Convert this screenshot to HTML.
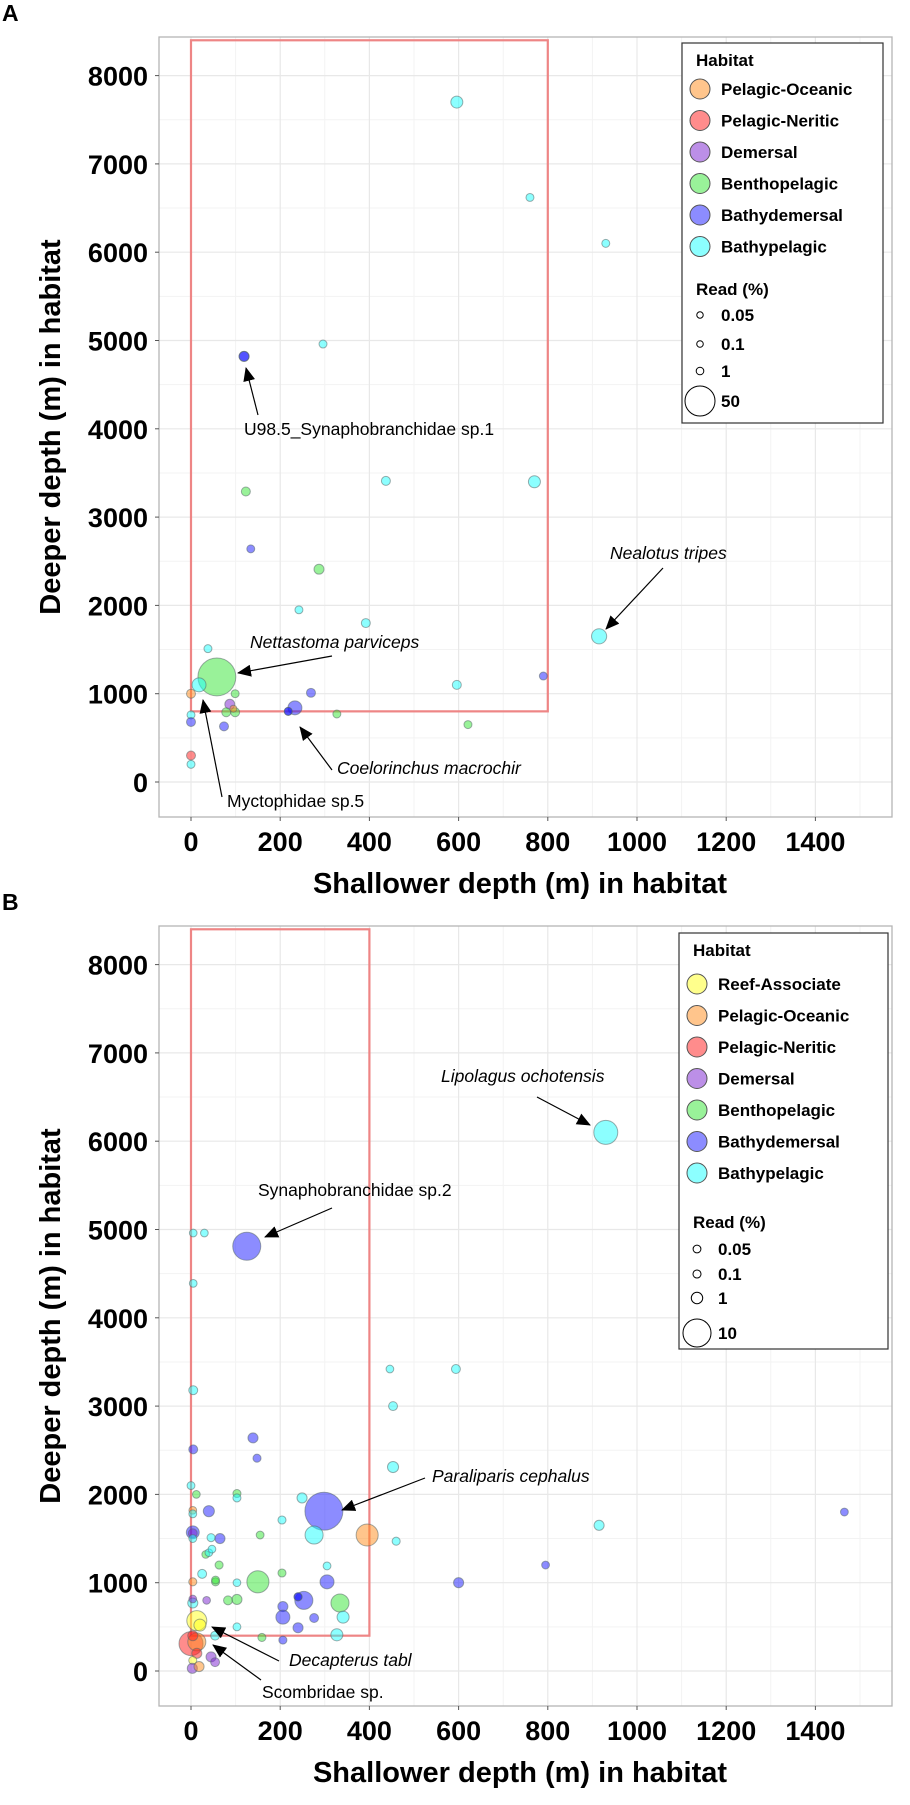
<!DOCTYPE html>
<html><head><meta charset="utf-8">
<style>
html,body{margin:0;padding:0;background:#fff;}
svg{display:block;font-family:"Liberation Sans",Arial,sans-serif;}
</style></head>
<body>
<svg id="fig" width="910" height="1805" viewBox="0 0 910 1805" xmlns="http://www.w3.org/2000/svg">
<defs>
<marker id="ah" markerWidth="14" markerHeight="12" refX="13" refY="6" orient="auto" markerUnits="userSpaceOnUse"><path d="M0,0 L14,6 L0,12 z" fill="#000"/></marker>
</defs>
</svg>
<script>
// ---------- data ----------
const habitatsA = ["Pelagic-Oceanic","Pelagic-Neritic","Demersal","Benthopelagic","Bathydemersal","Bathypelagic"];
const habitatsB = ["Reef-Associate","Pelagic-Oceanic","Pelagic-Neritic","Demersal","Benthopelagic","Bathydemersal","Bathypelagic"];
const xTicks = [0,200,400,600,800,1000,1200,1400];
const yTicks = [0,1000,2000,3000,4000,5000,6000,7000,8000];
const sizeLegendA = [0.05,0.1,1,50];
const sizeLegendB = [0.05,0.1,1,10];
// panel A points: shallow depth, deep depth, read %, habitat
const shallowA = [596,760,930,296,119,119,437,770,123,134,287,242,392,915,38,58,18,0,99,269,596,790,87,79,99,95,233,218,218,327,621,0,0,74,0,0];
const deepA    = [7700,6620,6100,4960,4820,4820,3410,3400,3290,2640,2410,1950,1800,1650,1510,1190,1100,1000,1000,1010,1100,1200,880,790,790,830,840,800,800,770,650,760,680,630,300,200];
const readA    = [6,1.3,1.3,1.3,3.4,3.4,2.3,6,2.3,1.3,3.4,1.3,2.3,11,1.3,81,9,2.3,1.3,2.3,2.3,1.3,3.4,2.3,2.3,0.5,9,1.3,1.3,1.3,1.3,1.3,2.3,2.3,2.3,1.3];
const habA     = ["BY","BY","BY","BY","BD","BD","BY","BY","BP","BD","BP","BY","BY","BY","BY","BP","BY","O","BP","BD","BY","BD","D","BP","BP","O","BD","BD","BD","BP","BP","BY","BD","BD","N","BY"];
// panel B points
const shallowB = [930,125,5,30,5,5,446,594,453,139,5,148,453,0,12,103,103,249,298,4,4,40,204,395,276,460,4,4,4,45,65,155,33,40,47,63,25,4,55,55,103,150,204,305,305,4,4,35,83,103,253,240,240,206,206,276,334,341,327,240,206,159,103,54,13,20,0,13,4,13,4,45,54,3,18,915,795,600,1465];
const deepB    = [6100,4810,4960,4960,4390,3180,3420,3420,3000,2640,2510,2410,2310,2100,2000,2010,1960,1960,1810,1820,1780,1810,1710,1540,1540,1470,1570,1560,1500,1510,1500,1540,1320,1340,1380,1200,1100,1010,1010,1030,1000,1010,1110,1190,1010,770,815,800,800,810,800,840,840,730,610,600,770,610,410,490,350,380,500,400,570,520,310,330,400,200,120,160,100,30,50,1650,1200,1000,1800];
const readB    = [7.1,10,0.02,0.02,0.02,0.3,0.02,0.3,0.3,0.6,0.3,0.1,0.9,0.05,0.02,0.1,0.1,0.6,19,0.02,0.05,0.9,0.1,5.9,3.7,0.1,1.5,0.3,0.05,0.1,0.6,0.05,0.02,0.02,0.02,0.1,0.3,0.1,0.1,0.05,0.02,5.9,0.1,0.05,1.9,0.6,0.02,0.02,0.3,0.6,3.7,0.1,0.1,0.6,1.9,0.3,3.7,1.2,1.2,0.6,0.1,0.1,0.05,0.3,4.7,1.2,7.1,3.7,0.6,0.6,0.1,0.6,0.3,0.6,0.6,0.6,0.05,0.6,0.05];
const habB     = ["BY","BD","BY","BY","BY","BY","BY","BY","BY","BD","BD","BD","BY","BY","BP","BP","BY","BY","BD","O","BY","BD","BY","O","BY","BY","BD","D","BY","BY","BD","BP","BP","BY","BY","BP","BY","O","BP","BP","BY","BP","BP","BY","BD","BY","D","D","BP","BP","BD","BD","BD","BD","BD","BD","BP","BY","BY","BD","BD","BP","BY","BY","R","R","N","O","N","N","R","D","D","D","O","BY","BD","BD","BD"];

// ---------- styling ----------
const COL = {"R":"#ffff1a","O":"#ff8c1a","N":"#ff1a1a","D":"#7a1fd0","BP":"#33e633","BD":"#1a1aff","BY":"#1affff"};
const NAMECODE = {"Reef-Associate":"R","Pelagic-Oceanic":"O","Pelagic-Neritic":"N","Demersal":"D","Benthopelagic":"BP","Bathydemersal":"BD","Bathypelagic":"BY"};
const NS = "http://www.w3.org/2000/svg";
const svg = document.getElementById("fig");
function el(tag, attrs, parent){ const e=document.createElementNS(NS,tag); for(const k in attrs) e.setAttribute(k,attrs[k]); (parent||svg).appendChild(e); return e; }

const X0 = 191, XS = 0.446, PL = 159, PR = 892;
function makePanel(cfg){
  const top = cfg.top, bot = cfg.top+780, y0 = bot-35, YS = 0.0883;
  const xs = v => X0 + v*XS;
  const ys = v => y0 - v*YS;
  const g = el("g",{});
  
  
  for(let v=-100; v<=1600; v+=200){ const x=xs(v); if(x>PL&&x<PR){ const l=el("line",{x1:x,x2:x,y1:top,y2:bot,stroke:"#f3f3f3","stroke-width":1},g);
      } }
  for(let v=-500; v<=8500; v+=1000){ const y=ys(v); if(y>top&&y<bot){ const l=el("line",{x1:PL,x2:PR,y1:y,y2:y,stroke:"#f3f3f3","stroke-width":1},g);
      } }
  for(let v=0; v<=1600; v+=200){ const x=xs(v); if(x<PR){ const l=el("line",{x1:x,x2:x,y1:top,y2:bot,stroke:"#e8e8e8","stroke-width":1.2},g);
      } }
  yTicks.forEach(v=>{ const y=ys(v); const l=el("line",{x1:PL,x2:PR,y1:y,y2:y,stroke:"#e8e8e8","stroke-width":1.2},g);
      });
  const pb = el("rect",{x:PL,y:top,width:PR-PL,height:bot-top,fill:"none",stroke:"#b5b5b5","stroke-width":1.3},g);
   
  const rr = el("rect",{x:xs(0),y:ys(8400),width:xs(cfg.rectX)-xs(0),height:ys(cfg.rectY)-ys(8400),fill:"none",stroke:"#ee8585","stroke-width":2.2},g);
   
  xTicks.forEach(v=>{
    const x=xs(v);
    const t=el("line",{x1:x,x2:x,y1:bot,y2:bot+4,stroke:"#555","stroke-width":1},g);
     
    const tx=el("text",{x:x,y:bot+34,"text-anchor":"middle","font-size":27,"font-weight":"bold",fill:"#000"},g);
    tx.textContent=v;
     
  });
  yTicks.forEach(v=>{
    const y=ys(v);
    const t=el("line",{x1:PL-4,x2:PL,y1:y,y2:y,stroke:"#555","stroke-width":1},g);
     
    const tx=el("text",{x:148,y:y+10,"text-anchor":"end","font-size":27,"font-weight":"bold",fill:"#000"},g);
    tx.textContent=v;
     
  });
  const xt=el("text",{x:520,y:bot+76,"text-anchor":"middle","font-size":29,"font-weight":"bold",fill:"#000"},g);
  xt.textContent="Shallower depth (m) in habitat";
   
  const cy=(top+bot)/2;
  const yt=el("text",{x:0,y:0,transform:`translate(60,${cy}) rotate(-90)`,"text-anchor":"middle","font-size":29,"font-weight":"bold",fill:"#000"},g);
  yt.textContent="Deeper depth (m) in habitat";
   
  const pl=el("text",{x:2,y:top-16,"font-size":23,"font-weight":"bold",fill:"#000"},g);
  pl.textContent=cfg.letter;
   
  const rad = v => Math.sqrt(cfg.r0*cfg.r0 + cfg.k*v);
  for(let i=0;i<cfg.sx.length;i++){
    const c=el("circle",{cx:xs(cfg.sx[i]),cy:ys(cfg.dy[i]),r:rad(cfg.rd[i]).toFixed(2),fill:COL[cfg.hb[i]],"fill-opacity":0.5,stroke:"#5a6a6a","stroke-opacity":0.55,"stroke-width":1},g);
    
    
  }
  cfg.ann.forEach(a=>{
    const ln=el("line",{x1:a.lx1,y1:a.ly1+top,x2:a.lx2,y2:a.ly2+top,stroke:"#000","stroke-width":1.2,"marker-end":"url(#ah)"},g);
     
    const t=el("text",{x:a.tx,y:a.ty+top,"font-size":17.5,"font-style":a.it?"italic":"normal",fill:"#000"},g);
    t.textContent=a.text;
     
  });
  const L=cfg.leg;
  const lg=el("g",{},g);
   
  const lb=el("rect",{x:L.x,y:L.y+top,width:L.w,height:L.h,fill:"#fff",stroke:"#333","stroke-width":1.2},lg);
   
  const ht=el("text",{x:L.x+14,y:L.y+top+23,"font-size":17,"font-weight":"bold",fill:"#000"},lg);
  ht.textContent="Habitat";
   
  cfg.habs.forEach((h,i)=>{
    const yy=L.y+top+L.e0+i*31.5;
    const c=el("circle",{cx:L.x+18,cy:yy,r:10,fill:COL[NAMECODE[h]],"fill-opacity":0.5,stroke:"#555","stroke-width":1},lg);
     
    const t=el("text",{x:L.x+39,y:yy+6,"font-size":17,"font-weight":"bold",fill:"#000"},lg);
    t.textContent=h;
     
  });
  const rt=el("text",{x:L.x+14,y:L.y+top+L.r0y,"font-size":17,"font-weight":"bold",fill:"#000"},lg);
  rt.textContent="Read (%)";
   
  cfg.sizes.forEach((s,i)=>{
    const yy=L.y+top+L.sy[i];
    const r=rad(s);
    const c=el("circle",{cx:L.x+18,cy:yy,r:r.toFixed(2),fill:"none",stroke:"#000","stroke-width":1},lg);
     
    const t=el("text",{x:L.x+39,y:yy+6,"font-size":17,"font-weight":"bold",fill:"#000"},lg);
    t.textContent=s;
     
  });
}

makePanel({id:"panel-a",letter:"A",top:37,rectX:800,rectY:800,sx:shallowA,dy:deepA,rd:readA,hb:habA,r0:3.2,k:4.3,
  habs:habitatsA,sizes:sizeLegendA,
  leg:{x:682,y:6,w:201,h:380,e0:46,r0y:252,sy:[272,301,328,358]},
  ann:[
    {text:"U98.5_Synaphobranchidae sp.1",it:false,tx:244,ty:398,lx1:258,ly1:378,lx2:246,ly2:331},
    {text:"Nealotus tripes",it:true,tx:610,ty:522,lx1:663,ly1:531,lx2:606,ly2:592},
    {text:"Nettastoma parviceps",it:true,tx:250,ty:611,lx1:332,ly1:619,lx2:238,ly2:636},
    {text:"Coelorinchus macrochir",it:true,tx:337,ty:737,lx1:332,ly1:733,lx2:300,ly2:690},
    {text:"Myctophidae sp.5",it:false,tx:227,ty:770,lx1:222,ly1:760,lx2:203,ly2:663}
  ]});

makePanel({id:"panel-b",letter:"B",top:926,rectX:400,rectY:400,sx:shallowB,dy:deepB,rd:readB,hb:habB,r0:3.8,k:18.2,
  habs:habitatsB,sizes:sizeLegendB,
  leg:{x:679,y:7,w:209,h:416,e0:51,r0y:295,sy:[316,341,365,400]},
  ann:[
    {text:"Lipolagus ochotensis",it:true,tx:441,ty:156,lx1:537,ly1:171,lx2:590,ly2:199},
    {text:"Synaphobranchidae sp.2",it:false,tx:258,ty:270,lx1:332,ly1:282,lx2:265,ly2:311},
    {text:"Paraliparis cephalus",it:true,tx:432,ty:556,lx1:425,ly1:552,lx2:342,ly2:584},
    {text:"Decapterus tabl",it:true,tx:289,ty:740,lx1:279,ly1:735,lx2:212,ly2:701},
    {text:"Scombridae sp.",it:false,tx:262,ty:772,lx1:261,ly1:754,lx2:213,ly2:719}
  ]});
</script>
</body></html>
